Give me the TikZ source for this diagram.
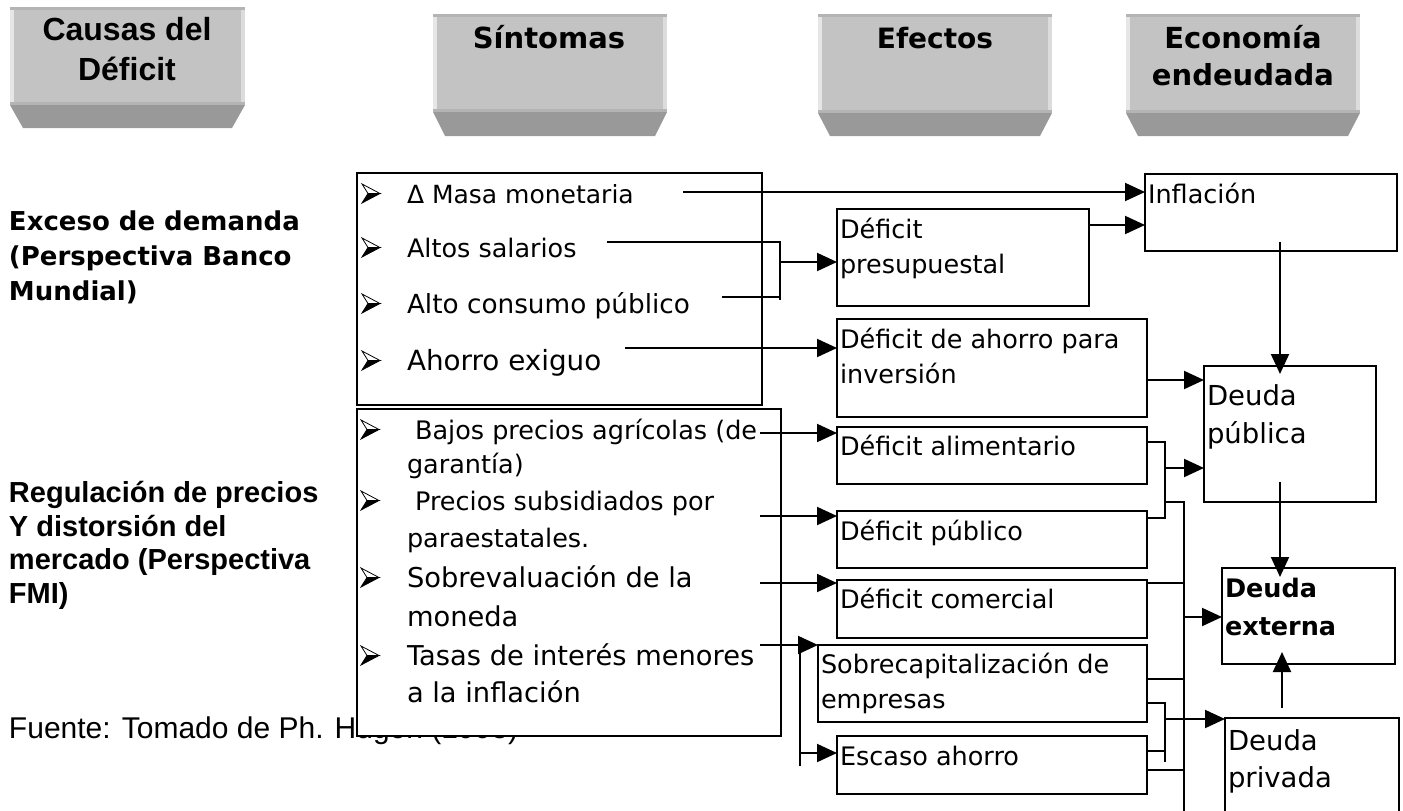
\documentclass[tikz,border=0pt]{standalone}
\usepackage{fontspec}
\setmainfont{DejaVu Sans}
\newfontfamily\arialf{Liberation Sans}
\usetikzlibrary{arrows.meta}
\definecolor{hface}{HTML}{C3C3C3}
\definecolor{htop}{HTML}{B4B4B4}
\definecolor{hlight}{HTML}{E6E6E6}
\definecolor{hlightr}{HTML}{DCDCDC}
\definecolor{htrap}{HTML}{999999}
\newcommand\fz[1]{\fontsize{#1pt}{#1pt}\selectfont}
\newcommand\hdrshape[6]{%
  \fill[hface] (#1,#3) rectangle (#2,#4);
  \fill[hlight] (#1,#3) rectangle (#1+4,#4);
  \fill[hlightr] (#2-4,#3) rectangle (#2,#4);
  \fill[htop] (#1,#3) rectangle (#2,#3+3);
  \fill[htop] (#1,#4-3) rectangle (#2,#4);
  \fill[htrap] (#1,#4) -- (#2,#4) -- (#2-#6,#5) -- (#1+#6,#5) -- cycle;}
\newcommand\bx[5]{\node[box, minimum width={(#4-#2)*1pt}, minimum height={(#5-#3)*1pt}] (#1) at (#2,#3) {};}
\tikzset{
  box/.style={draw=black, line width=2pt, fill=white, inner sep=0pt, outer sep=0pt, anchor=north west},
  t/.style={inner sep=0pt, outer sep=0pt, anchor=base west},
  tc/.style={inner sep=0pt, outer sep=0pt, anchor=base},
  conn/.style={line width=2pt},
  arr/.style={conn, -{Triangle[length=20pt,width=18pt]}},
  bul/.pic={
    \filldraw[fill=white, draw=black, line width=0.8pt, line join=miter] (0,-19) -- (18,-9.5) -- (6,-9.5) -- cycle;
    \filldraw[fill=black, draw=black, line width=0.8pt, line join=miter] (6,-9.5) -- (18,-9.5) -- (0,0) -- cycle;
  }
}
\begin{document}
\begin{tikzpicture}[x=1pt,y=-1pt]
\useasboundingbox (0,0) rectangle (1403,811);
\clip (0,0) rectangle (1403,811);
\fill[white] (0,0) rectangle (1403,811);
% headers
\hdrshape{10}{245}{7}{105}{128}{13}
\hdrshape{433}{667}{14}{112}{136}{12}
\hdrshape{818}{1052}{14}{113}{136}{12}
\hdrshape{1126}{1360}{14}{113}{136}{12}
\node[tc,font=\arialf\bfseries\fz{32}] (h1a) at (127,40) {Causas del};
\node[tc,font=\arialf\bfseries\fz{32}] (h1b) at (127,80) {Déficit};
\node[tc,font=\bfseries\fz{29}] (h2) at (549,48) {Síntomas};
\node[tc,font=\bfseries\fz{28}] (h3) at (935,48) {Efectos};
\node[tc,font=\bfseries\fz{29}] (h4a) at (1243,48) {Economía};
\node[tc,font=\bfseries\fz{29}] (h4b) at (1243,85) {endeudada};
% left labels
\node[t,font=\bfseries\fz{26}] (l1a) at (9,230) {Exceso de demanda};
\node[t,font=\bfseries\fz{26}] (l1b) at (9,265) {(Perspectiva Banco};
\node[t,font=\bfseries\fz{26}] (l1c) at (9,300) {Mundial)};
\node[t,font=\arialf\bfseries\fz{29}] (l2a) at (9,502) {Regulación de precios};
\node[t,font=\arialf\bfseries\fz{29}] (l2b) at (9,536) {Y distorsión del};
\node[t,font=\arialf\bfseries\fz{29}] (l2c) at (9,569) {mercado (Perspectiva};
\node[t,font=\arialf\bfseries\fz{29}] (l2d) at (9,603) {FMI)};
\node[t,font=\arialf\fz{30}] (src) at (9,738) {Fuente: Tomado de Ph. Hugon (1993)};
% boxes
\bx{S1}{357}{173}{762}{405}
\bx{S2}{357}{409}{781}{736}
\bx{P}{837}{209}{1089}{306}
\bx{A}{837}{319}{1147}{417}
\bx{I}{1145}{174}{1397}{251}
\bx{Al}{837}{427}{1147}{484}
\bx{Pu}{837}{511}{1147}{568}
\bx{C}{837}{580}{1147}{638}
\bx{Sc}{818}{645}{1147}{722}
\bx{E}{837}{736}{1147}{794}
\bx{DP}{1204}{366}{1376}{502}
\bx{DE}{1222}{568}{1395}{664}
\bx{DV}{1225}{718}{1399}{840}
% symptom items
\pic at (362,203) {bul};
\pic at (362,257) {bul};
\pic at (362,313) {bul};
\pic at (362,370) {bul};
\node[t,font=\fz{25}] (s1) at (407,203) {Δ Masa monetaria};
\node[t,font=\fz{25.5}] (s2) at (407,257) {Altos salarios};
\node[t,font=\fz{26.3}] (s3) at (407,313) {Alto consumo público};
\node[t,font=\fz{27.8}] (s4) at (407,370) {Ahorro exiguo};
\pic at (361,439) {bul};
\pic at (361,510) {bul};
\pic at (361,587) {bul};
\pic at (361,665) {bul};
\node[t,font=\fz{25.5}] (r1a) at (407,439) {\ Bajos precios agrícolas (de};
\node[t,font=\fz{25.5}] (r1b) at (407,473) {garantía)};
\node[t,font=\fz{25.5}] (r2a) at (407,510) {\ Precios subsidiados por};
\node[t,font=\fz{25.5}] (r2b) at (407,547) {paraestatales.};
\node[t,font=\fz{27.3}] (r3a) at (407,587) {Sobrevaluación de la};
\node[t,font=\fz{27.3}] (r3b) at (407,626) {moneda};
\node[t,font=\fz{27.3}] (r4a) at (407,665) {Tasas de interés menores};
\node[t,font=\fz{27.3}] (r4b) at (407,702) {a la inflación};
% effect texts
\node[t,font=\fz{25.5}] (tP1) at (840,238) {Déficit};
\node[t,font=\fz{25.5}] (tP2) at (840,273) {presupuestal};
\node[t,font=\fz{25.5}] (tA1) at (840,348) {Déficit de ahorro para};
\node[t,font=\fz{25.5}] (tA2) at (840,383) {inversión};
\node[t,font=\fz{25.5}] (tI) at (1148,203) {Inflación};
\node[t,font=\fz{25.5}] (tAl) at (840,455) {Déficit alimentario};
\node[t,font=\fz{25.5}] (tPu) at (840,540) {Déficit público};
\node[t,font=\fz{25.5}] (tC) at (840,608) {Déficit comercial};
\node[t,font=\fz{25.5}] (tSc1) at (821,673) {Sobrecapitalización de};
\node[t,font=\fz{25.5}] (tSc2) at (821,708) {empresas};
\node[t,font=\fz{25.5}] (tE) at (840,765) {Escaso ahorro};
\node[t,font=\fz{27.5}] (tDP1) at (1207,405) {Deuda};
\node[t,font=\fz{27.5}] (tDP2) at (1207,443) {pública};
\node[t,font=\bfseries\fz{25.5}] (tDE1) at (1225,597) {Deuda};
\node[t,font=\bfseries\fz{25.5}] (tDE2) at (1225,635) {externa};
\node[t,font=\fz{27.5}] (tDV1) at (1228,750) {Deuda};
\node[t,font=\fz{27.5}] (tDV2) at (1228,787) {privada};
% connectors (upper)
\coordinate (cM) at (683,192);
\draw[arr] (cM) -- (I.west |- cM);
\coordinate (cS) at (607,242);
\coordinate (cK) at (722,297);
\coordinate (jS0) at (780,300);
\coordinate (jS) at (780,262);
\draw[conn] (cS) -| (jS0);
\draw[conn] (cK) -- (cK -| jS0);
\draw[arr] (jS) -- (P.west |- jS);
\coordinate (cAh) at (625,348);
\draw[arr] (cAh) -- (A.west |- cAh);
\coordinate (yPI) at (0,225);
\draw[arr] (P.east |- yPI) -- (I.west |- yPI);
\coordinate (yAD) at (0,380);
\draw[arr] (A.east |- yAD) -- (DP.west |- yAD);
\coordinate (iA) at (1280,242);
\coordinate (iB) at (1280,374);
\draw[arr] (iA) -- (iB);
\coordinate (dA) at (1280,482);
\coordinate (dB) at (1280,577);
\draw[arr] (dA) -- (dB);
\coordinate (pA) at (1282,708);
\coordinate (pB) at (1282,652);
\draw[arr] (pA) -- (pB);
% connectors (lower left)
\coordinate (b1) at (760,433);
\draw[arr] (b1) -- (Al.west |- b1);
\coordinate (b2) at (760,516);
\draw[arr] (b2) -- (Pu.west |- b2);
\coordinate (b3) at (760,583);
\draw[arr] (b3) -- (C.west |- b3);
\coordinate (b4) at (760,645);
\draw[arr] (b4) -- (Sc.west |- b4);
\coordinate (v1) at (800,645);
\coordinate (v2) at (800,766);
\draw[conn] (v1) -- (v2);
\coordinate (b5) at (800,753);
\draw[arr] (b5) -- (E.west |- b5);
% connectors (right joins)
\coordinate (yAl) at (0,442);
\coordinate (yPu) at (0,518);
\coordinate (jq) at (1165,518);
\draw[conn] (Al.east |- yAl) -| (jq) -- (Pu.east |- yPu);
\coordinate (jq2) at (1165,468);
\draw[arr] (jq2) -- (DP.west |- jq2);
\coordinate (jr) at (1165,502);
\coordinate (jrB) at (1184,820);
\draw[conn] (jr) -| (jrB);
\coordinate (yC) at (0,583);
\draw[conn] (C.east |- yC) -- (jrB |- yC);
\coordinate (jr2) at (1184,617);
\draw[arr] (jr2) -- (DE.west |- jr2);
\coordinate (yS1) at (0,679);
\draw[conn] (Sc.east |- yS1) -- (jrB |- yS1);
\coordinate (yE1) at (0,770);
\draw[conn] (E.east |- yE1) -- (jrB |- yE1);
\coordinate (yS2) at (0,703);
\coordinate (jt) at (1165,762);
\draw[conn] (Sc.east |- yS2) -| (jt);
\coordinate (yE2) at (0,751);
\draw[conn] (E.east |- yE2) -- (jt |- yE2);
\coordinate (jt2) at (1165,719);
\draw[arr] (jt2) -- (DV.west |- jt2);
\end{tikzpicture}
\end{document}
